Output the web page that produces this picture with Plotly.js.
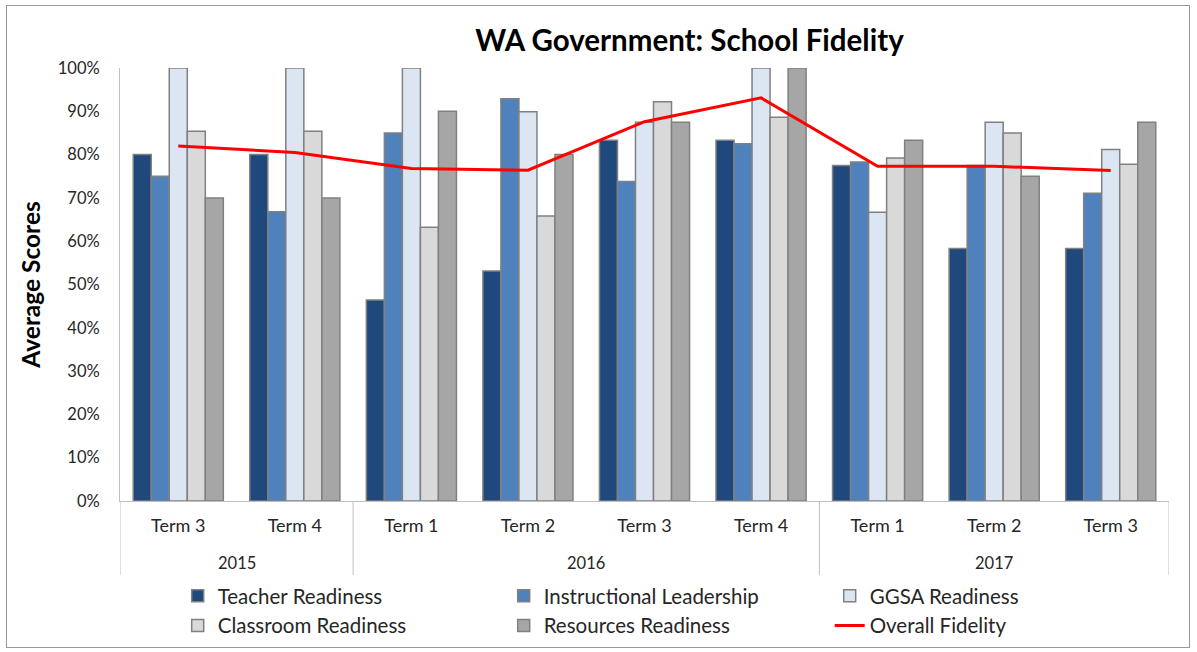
<!DOCTYPE html>
<html>
<head>
<meta charset="utf-8">
<script src="https://cdn.plot.ly/plotly-3.0.1.min.js"></script>
<style>
  html, body { margin: 0; padding: 0; background: #fff; }
  #frame { position: absolute; left: 6px; top: 5px; width: 1184px; height: 643px; border: 1px solid #999; box-sizing: border-box; pointer-events: none; z-index: 5; }
  #chart { width: 1197px; height: 652px; }
</style>
</head>
<body>
<div id="frame"></div>
<div id="chart"></div>
<script>
const years = ["2015", "2015", "2016", "2016", "2016", "2016", "2017", "2017", "2017"];
const terms = ["Term 3", "Term 4", "Term 1", "Term 2", "Term 3", "Term 4", "Term 1", "Term 2", "Term 3"];
const yearLabels = ["2015", "2016", "2017"];

const teacherReadiness        = [80.0, 80.0, 46.4, 53.1, 83.3, 83.3, 77.5, 58.3, 58.3];
const instructionalLeadership = [75.0, 66.8, 85.0, 92.9, 73.8, 82.5, 78.3, 77.5, 71.1];
const ggsaReadiness           = [100, 100, 100, 89.9, 87.5, 100, 66.7, 87.5, 81.2];
const classroomReadiness      = [85.4, 85.4, 63.2, 65.8, 92.2, 88.6, 79.2, 85.0, 77.8];
const resourcesReadiness      = [70.0, 70.0, 90.0, 80.0, 87.5, 100, 83.3, 75.0, 87.5];
const overallFidelity         = [82.0, 80.5, 76.8, 76.4, 87.6, 93.1, 77.3, 77.3, 76.3];

const seriesNames = ["Teacher Readiness", "Instructional Leadership", "GGSA Readiness", "Classroom Readiness", "Resources Readiness"];
const seriesColors = ["#1F497D", "#4F81BD", "#DCE6F2", "#D9D9D9", "#A6A6A6"];
const seriesData = [teacherReadiness, instructionalLeadership, ggsaReadiness, classroomReadiness, resourcesReadiness];

const FONT = "Lato, 'Open Sans', sans-serif";
const categories = years.map((y, i) => y + " " + terms[i]);

const traces = seriesData.map((vals, i) => ({
  type: "bar",
  name: seriesNames[i],
  x: categories,
  y: vals.map(v => v / 100),
  marker: { color: seriesColors[i], line: { color: "#808080", width: 1.5 } },
  hoverinfo: "skip"
}));

traces.push({
  type: "scatter",
  mode: "lines",
  name: "Overall Fidelity",
  x: categories,
  y: overallFidelity.map(v => v / 100),
  line: { color: "#FF0000", width: 3 },
  hoverinfo: "skip"
});

// Year group labels and dividers, positioned on the category axis
const annotations = yearLabels.map(yr => {
  const idx = years.map((y, i) => y === yr ? i : -1).filter(i => i >= 0);
  return {
    text: yr,
    x: (idx[0] + idx[idx.length - 1]) / 2,
    xref: "x",
    y: -0.143,
    yref: "paper",
    xanchor: "center",
    yanchor: "middle",
    showarrow: false,
    font: { family: FONT, size: 16.5, color: "#262626" }
  };
});

const boundaries = [-0.5];
for (let i = 1; i < years.length; i++) if (years[i] !== years[i - 1]) boundaries.push(i - 0.5);
boundaries.push(years.length - 0.5);

const shapes = boundaries.map(b => ({
  type: "line",
  xref: "x", yref: "paper",
  x0: b, x1: b, y0: 0, y1: -0.171,
  line: { color: "#BFBFBF", width: 1 },
  layer: "below"
}));

const layout = {
  width: 1197,
  height: 652,
  margin: { l: 120, r: 28, t: 68, b: 151, autoexpand: false },
  paper_bgcolor: "#ffffff",
  plot_bgcolor: "#ffffff",
  font: { family: FONT, color: "#262626", size: 16 },
  barmode: "group",
  bargap: 0.227,
  bargroupgap: 0,
  showlegend: true,
  annotations: annotations,
  shapes: shapes,
  title: {
    text: "<b>WA Government: School Fidelity</b>",
    font: { family: FONT, size: 29.5, color: "#000000" },
    x: 0.576, xanchor: "center",
    y: 0.938, yanchor: "middle"
  },
  xaxis: {
    type: "category",
    range: [-0.5, years.length - 0.5],
    tickvals: categories,
    ticktext: terms,
    showline: true,
    linecolor: "#BFBFBF",
    linewidth: 1,
    showgrid: false,
    zeroline: false,
    ticks: "",
    ticklabelstandoff: 8,
    tickfont: { family: FONT, size: 18, color: "#262626" }
  },
  yaxis: {
    range: [0, 1],
    tickvals: [0, 0.1, 0.2, 0.3, 0.4, 0.5, 0.6, 0.7, 0.8, 0.9, 1.0],
    ticktext: ["0%", "10%", "20%", "30%", "40%", "50%", "60%", "70%", "80%", "90%", "100%"],
    showline: true,
    linecolor: "#BFBFBF",
    linewidth: 1,
    showgrid: false,
    zeroline: false,
    ticks: "",
    ticklabelstandoff: 16,
    tickfont: { family: FONT, size: 16.5, color: "#262626" },
    title: {
      text: "<b>Average Scores</b>",
      font: { family: FONT, size: 24.5, color: "#000000" },
      standoff: 10
    }
  },
  legend: {
    orientation: "h",
    x: 0.055, xanchor: "left",
    y: -0.173, yanchor: "top",
    entrywidth: 281,
    entrywidthmode: "pixels",
    traceorder: "normal",
    font: { family: FONT, size: 20.5, color: "#262626" },
    itemwidth: 30,
    tracegroupgap: 0
  }
};

Plotly.newPlot("chart", traces, layout, { displayModeBar: false, staticPlot: true });
</script>
</body>
</html>
